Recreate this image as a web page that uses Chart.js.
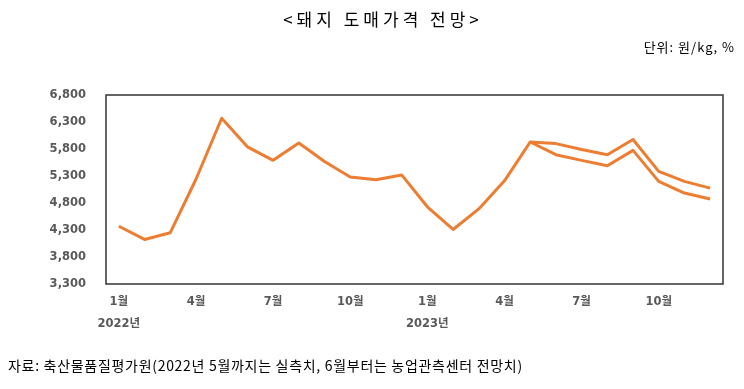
<!DOCTYPE html>
<html>

<head>
    <meta charset="utf-8">
    <title>돼지 도매가격 전망</title>
    <script src="https://cdn.jsdelivr.net/npm/chart.js"></script>
    <style>
        body { margin: 0; background: #fff; }
        #wrap { position: relative; width: 744px; height: 389px; font-family: "Noto Sans CJK KR", sans-serif; }
        #chart { position: absolute; left: 0; top: 0; }
        .txt { position: absolute; white-space: nowrap; color: #000; }
        #title { left: 0; width: 766px; top: 6px; text-align: center; font-size: 17px; letter-spacing: 4px; }
        #unit { right: 9px; top: 37px; font-size: 13px; letter-spacing: 1px; }
        #source { left: 8px; top: 355px; font-size: 14px; letter-spacing: 0.7px; }
    </style>
</head>

<body>
    <div id="wrap">
        <canvas id="chart" width="744" height="389"></canvas>
        <div class="txt" id="title">&lt;돼지 도매가격 전망&gt;</div>
        <div class="txt" id="unit">단위: 원/kg, %</div>
        <div class="txt" id="source">자료: 축산물품질평가원(2022년 5월까지는 실측치, 6월부터는 농업관측센터 전망치)</div>
    </div>
    <script>
        // 2022.1 ~ 2023.12, monthly
        var months = ['1월', '2월', '3월', '4월', '5월', '6월', '7월', '8월', '9월', '10월', '11월', '12월',
            '1월', '2월', '3월', '4월', '5월', '6월', '7월', '8월', '9월', '10월', '11월', '12월'];
        var years = ['2022년', '', '', '', '', '', '', '', '', '', '', '',
            '2023년', '', '', '', '', '', '', '', '', '', '', ''];

        // actual price, then upper forecast
        var upper = [4370, 4125, 4250, 5240, 6370, 5840, 5590, 5910, 5570, 5280, 5230, 5320,
            4730, 4310, 4690, 5210, 5930, 5900, 5790, 5695, 5975, 5385, 5200, 5075];
        // lower forecast
        var lower = [null, null, null, null, null, null, null, null, null, null, null, null,
            null, null, null, null, 5930, 5695, 5590, 5490, 5775, 5200, 4985, 4875];

        var boxPlugin = {
            id: 'box',
            afterDraw: function (chart) {
                var a = chart.chartArea;
                var c = chart.ctx;
                c.save();
                c.strokeStyle = '#333';
                c.lineWidth = 1.5;
                c.strokeRect(a.left, a.top, a.right - a.left, a.bottom - a.top);
                c.restore();
            }
        };

        var fam = '"DejaVu Sans", "Noto Sans CJK KR", sans-serif';

        var ctx = document.getElementById('chart').getContext('2d');
        var chart = new Chart(ctx, {
            type: 'line',
            data: {
                labels: months,
                datasets: [{
                    data: upper,
                    borderColor: '#ED7D31',
                    borderWidth: 3,
                    pointRadius: 0,
                    tension: 0,
                    borderJoinStyle: 'round'
                }, {
                    data: lower,
                    borderColor: '#ED7D31',
                    borderWidth: 3,
                    pointRadius: 0,
                    tension: 0,
                    borderJoinStyle: 'round'
                }]
            },
            options: {
                responsive: false,
                animation: false,
                layout: { padding: { top: 95, left: 0, right: 21, bottom: 49 } },
                plugins: {
                    legend: { display: false },
                    tooltip: { enabled: false }
                },
                scales: {
                    x: {
                        offset: true,
                        grid: { display: false, drawTicks: false },
                        border: { display: false },
                        afterFit: function (s) { s.height = 56; },
                        ticks: {
                            autoSkip: false,
                            maxRotation: 0,
                            padding: 7,
                            color: '#595959',
                            font: { family: fam, size: 11.5, weight: 'bold', lineHeight: 1.9 },
                            callback: function (v, i) {
                                if (i % 3 !== 0) return '';
                                return years[i] ? [months[i], years[i]] : months[i];
                            }
                        }
                    },
                    y: {
                        min: 3300,
                        max: 6800,
                        grid: { display: false, drawTicks: false },
                        border: { display: false },
                        afterFit: function (s) { s.width = 106; },
                        ticks: {
                            stepSize: 500,
                            padding: 20,
                            color: '#595959',
                            font: { family: fam, size: 11.5, weight: 'bold' },
                            callback: function (v) { return v.toLocaleString('en-US'); }
                        }
                    }
                }
            },
            plugins: [boxPlugin]
        });
    </script>
</body>

</html>
